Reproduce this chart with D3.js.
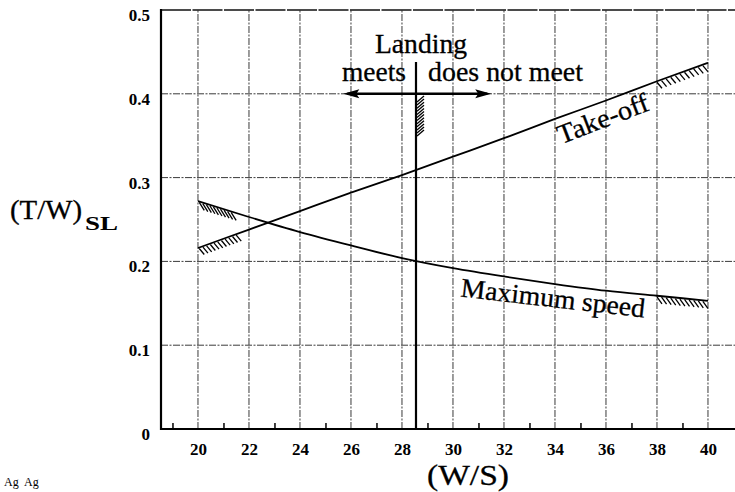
<!DOCTYPE html>
<html>
<head>
<meta charset="utf-8">
<script src="https://cdn.jsdelivr.net/npm/d3@7"></script>
<style>
  html, body { margin: 0; padding: 0; background: #fff; }
  svg { display: block; }
</style>
</head>
<body>
<svg id="chart" width="735" height="492"></svg>
<script>
// ---- data ----
const wsValues = [20, 22, 24, 26, 28, 30, 32, 34, 36, 38, 40];
const takeOff = [0.216, 0.238, 0.260, 0.282, 0.303, 0.325, 0.347, 0.370, 0.392, 0.415, 0.437];
const maxSpeed = [0.272, 0.253, 0.235, 0.219, 0.204, 0.192, 0.182, 0.173, 0.165, 0.159, 0.153];
const landingWS = 28.55;
const landingTop = 0.438;
const arrowRange = [25.7, 31.5];
const arrowLevel = 0.4;
const xTicks = [20, 22, 24, 26, 28, 30, 32, 34, 36, 38, 40];
const xMinorTicks = [19, 21, 23, 25, 27, 29, 31, 33, 35, 37, 39];
const yTicks = [0, 0.1, 0.2, 0.3, 0.4, 0.5];
const yGrid = [0.1, 0.2, 0.3, 0.4, 0.5];

const SERIF = "'Liberation Serif', monospace";
const svg = d3.select("#chart");
// diagnostic A (drawn first)
svg.append("text").attr("x", 4).attr("y", 486).attr("font-family", "'Liberation Serif', monospace").attr("font-size", 12).text("Ag");

const x = d3.scaleLinear().domain([18.55, 41.06]).range([161, 735]);
const y = d3.scaleLinear().domain([0, 0.5]).range([429, 10]);

// ---- grid ----
const gridColor = "#3a3a3a";
svg.append("g").selectAll("line").data(xTicks).join("line")
  .attr("x1", d => x(d)).attr("x2", d => x(d))
  .attr("y1", y(0)).attr("y2", y(0.5))
  .attr("stroke", gridColor).attr("stroke-width", 1)
  .attr("stroke-dasharray", "7,1.5,2,1.5");
svg.append("g").selectAll("line").data(yGrid).join("line")
  .attr("x1", x(18.55)).attr("x2", 735)
  .attr("y1", d => y(d)).attr("y2", d => y(d))
  .attr("stroke", d => d === 0.5 ? "#111" : gridColor)
  .attr("stroke-width", d => d === 0.5 ? 1.6 : 1)
  .attr("stroke-dasharray", d => d === 0.5 ? "30,1.5" : "7,1.5,2,1.5");

// ---- axes ----
const xAxis = svg.append("g").attr("transform", `translate(0,${y(0)})`)
  .call(d3.axisBottom(x).tickValues(xTicks).tickSize(0).tickPadding(10).tickFormat(d3.format("d")));
xAxis.select(".domain").remove();
xAxis.attr("font-family", SERIF).attr("font-size", 17).attr("font-weight", "bold");
xAxis.selectAll("text").attr("dy", "0.95em");

const xMinor = svg.append("g").attr("transform", `translate(0,${y(0)})`)
  .call(d3.axisBottom(x).tickValues(xMinorTicks).tickSize(-6).tickFormat(""));
xMinor.select(".domain").remove();
xMinor.selectAll("line").attr("stroke", "#000").attr("stroke-width", 1.5);

const yAxis = svg.append("g").attr("transform", `translate(${x(18.55)},0)`)
  .call(d3.axisLeft(y).tickValues(yTicks).tickSize(0).tickPadding(11)
    .tickFormat(d => d === 0 ? "0" : d3.format(".1f")(d)));
yAxis.select(".domain").remove();
yAxis.attr("font-family", SERIF).attr("font-size", 17).attr("font-weight", "bold");
yAxis.selectAll("text").attr("dy", "0.62em");

// axis frame lines
svg.append("line").attr("x1", x(18.55)).attr("x2", x(18.55)).attr("y1", y(0.5) - 1).attr("y2", y(0) + 1)
  .attr("stroke", "#000").attr("stroke-width", 2.2);
svg.append("line").attr("x1", x(18.55) - 1).attr("x2", 735).attr("y1", y(0)).attr("y2", y(0))
  .attr("stroke", "#000").attr("stroke-width", 2.2);

// ---- curves ----
const line = d3.line().x(d => x(d[0])).y(d => y(d[1])).curve(d3.curveMonotoneX);
svg.append("path").attr("d", line(d3.zip(wsValues, takeOff))).attr("fill", "none").attr("stroke", "#000").attr("stroke-width", 1.8);
svg.append("path").attr("d", line(d3.zip(wsValues, maxSpeed))).attr("fill", "none").attr("stroke", "#000").attr("stroke-width", 1.8);

function interp(series, v) {
  for (let i = 0; i < wsValues.length - 1; i++) {
    if (v >= wsValues[i] && v <= wsValues[i + 1]) {
      const t = (v - wsValues[i]) / (wsValues[i + 1] - wsValues[i]);
      return series[i] + t * (series[i + 1] - series[i]);
    }
  }
  return series[series.length - 1];
}
function hatch(series, from, to, n, dx, dy) {
  const pts = d3.range(n).map(i => from + (to - from) * i / (n - 1));
  svg.append("g").selectAll("line").data(pts).join("line")
    .attr("x1", d => x(d)).attr("y1", d => y(interp(series, d)) + 1)
    .attr("x2", d => x(d) + dx).attr("y2", d => y(interp(series, d)) + dy)
    .attr("stroke", "#000").attr("stroke-width", 1.3);
}
hatch(maxSpeed, 20.05, 21.3, 10, 5, 9);
hatch(takeOff, 20.05, 21.5, 11, 5, 7);
hatch(takeOff, 38.0, 39.8, 11, 5, 7);
hatch(maxSpeed, 38.0, 39.8, 11, 5, 8);

// ---- landing constraint ----
svg.append("line").attr("x1", x(landingWS)).attr("x2", x(landingWS))
  .attr("y1", y(landingTop)).attr("y2", y(0))
  .attr("stroke", "#000").attr("stroke-width", 2.2);
const landHatch = d3.range(12).map(i => 0.395 - i * 0.0037);
svg.append("g").selectAll("line").data(landHatch).join("line")
  .attr("x1", x(landingWS) + 1).attr("y1", d => y(d) + 4)
  .attr("x2", x(landingWS) + 8).attr("y2", d => y(d) - 2)
  .attr("stroke", "#000").attr("stroke-width", 1.3);

// arrows (drawn as paths, no markers)
const ay = y(arrowLevel);
svg.append("line").attr("x1", x(arrowRange[0]) + 4).attr("x2", x(arrowRange[1]) - 4)
  .attr("y1", ay).attr("y2", ay).attr("stroke", "#000").attr("stroke-width", 2.4);
const ax0 = x(arrowRange[0]), ax1 = x(arrowRange[1]);
svg.append("path").attr("d", `M${ax0},${ay} L${ax0 + 16},${ay - 4.5} L${ax0 + 13},${ay} L${ax0 + 16},${ay + 4.5} Z`).attr("fill", "#000");
svg.append("path").attr("d", `M${ax1},${ay} L${ax1 - 16},${ay - 4.5} L${ax1 - 13},${ay} L${ax1 - 16},${ay + 4.5} Z`).attr("fill", "#000");

// ---- texts ----
function label(txt, tx, ty, opts = {}) {
  const t = svg.append("text").attr("x", tx).attr("y", ty)
    .attr("text-anchor", opts.anchor || "start")
    .attr("font-family", SERIF)
    .attr("font-size", opts.size || 27)
    .attr("stroke", "#000").attr("stroke-width", opts.sw === undefined ? 0.3 : opts.sw)
    .text(txt);
  if (opts.len) t.attr("textLength", opts.len).attr("lengthAdjust", "spacingAndGlyphs");
  if (opts.rotate !== undefined) t.attr("transform", `rotate(${opts.rotate},${tx},${ty})`);
  if (opts.weight) t.attr("font-weight", opts.weight);
  return t;
}
label("Landing", 421, 53, { anchor: "middle", len: 92 });
label("meets", 406, 81, { anchor: "end", len: 64 });
label("does not meet", 428, 81, { anchor: "start", len: 155 });
label("Take-off", 606, 127, { anchor: "middle", len: 96, rotate: -21 });
label("Maximum speed", 552, 307, { anchor: "middle", len: 185, rotate: 6.5 });
label("(W/S)", 468, 485, { anchor: "middle", size: 30, len: 82 });
label("(T/W)", 10, 219, { anchor: "start", size: 27, len: 72 });
label("SL", 85, 230, { anchor: "start", size: 19, len: 33, weight: "bold", sw: 0 });
// diagnostic B (drawn last)
svg.append("text").attr("x", 24).attr("y", 486).attr("font-family", "'Liberation Serif', monospace").attr("font-size", 12).text("Ag");
</script>
</body>
</html>
